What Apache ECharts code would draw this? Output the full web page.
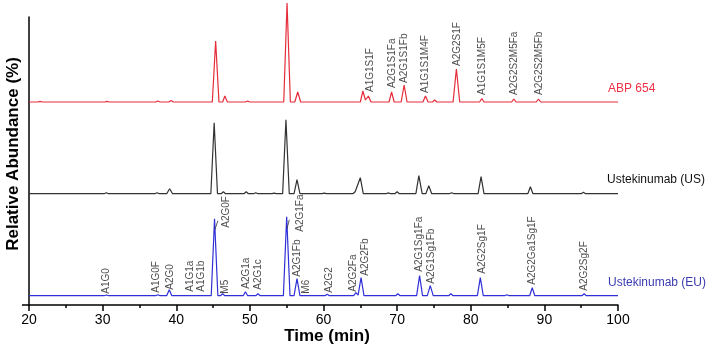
<!DOCTYPE html>
<html>
<head>
<meta charset="utf-8">
<script src="https://cdn.jsdelivr.net/npm/echarts@6/dist/echarts.min.js"></script>
<style>html,body{margin:0;padding:0;background:#fff}#c{width:708px;height:348px}</style>
</head>
<body>
<div id="c"></div>
<script>
// ---- data: [time (min), relative abundance above the trace's baseline] ----
const xTicks = [20, 30, 40, 50, 60, 70, 80, 90, 100];

const traceABP = [
  [20,0],[21.2,0],[21.5,0.6],[21.8,0],[30.3,0],[30.6,0.6],[30.9,0],[37.2,0],[37.5,1],[37.8,0],[39.0,0],[39.3,1.5],[39.6,0],
  [44.9,0],[45.35,61],[45.8,0],[46.3,0],[46.6,6],[46.95,0],[49.4,0],[49.7,1],[50.0,0],
  [54.6,0],[55.05,99],[55.5,0],[56.1,0],[56.5,10],[56.9,0],
  [65.0,0],[65.35,11],[65.7,2],[66.1,6],[66.45,0],
  [68.9,0],[69.25,10],[69.6,0],[70.55,0],[70.95,17],[71.35,0],
  [73.5,0],[73.85,6],[74.2,0],[74.8,0],[75.1,2],[75.4,0],
  [77.6,0],[78.05,33],[78.5,0],[81.2,0],[81.5,3.5],[81.8,0],
  [85.55,0],[85.85,3],[86.15,0],[88.9,0],[89.2,3],[89.5,0],[100,0]
];
const traceUS = [
  [20,0],[30.2,0],[30.5,1],[30.8,0],[37.1,0],[37.4,1],[37.7,0],[38.7,0],[39.1,5],[39.5,0],
  [44.7,0],[45.15,71],[45.6,0],[46.1,0],[46.4,2],[46.7,0],[49.2,0],[49.5,2],[49.8,0],[50.5,0],[50.8,1],[51.1,0],[53.0,0],[53.3,0.5],[53.6,0],
  [54.45,0],[54.9,74],[55.35,0],[56.0,0],[56.4,14],[56.8,0],[59.8,0],[60.1,0.5],[60.4,0],
  [64.0,0],[64.3,2],[64.55,0.5],[65.0,16],[65.4,0],[68.5,0],[68.8,0.8],[69.1,0],[69.7,0],[70.0,2],[70.3,0],
  [72.55,0],[72.95,18],[73.4,0],[73.9,0],[74.3,8],[74.7,0],[77.1,0],[77.4,1],[77.7,0],
  [81.0,0],[81.4,17],[81.8,0],[87.75,0],[88.1,7],[88.45,0],[95.0,0],[95.3,1.5],[95.6,0],[100,0]
];
const traceEU = [
  [20,0],[30.2,0],[30.5,0.7],[30.8,0],[37.2,0],[37.5,1],[37.8,0],[38.7,0],[39.05,6],[39.4,0],[41.7,0],[41.9,0.5],[42.1,0],
  [44.75,0],[45.2,77],[45.65,0],[46.0,0],[46.3,2],[46.6,0],[49.1,0],[49.4,4],[49.7,0],[50.8,0],[51.1,2],[51.4,0],
  [54.55,0],[55.0,79],[55.45,0],[56.0,0],[56.4,17],[56.8,0],[57.1,0],[57.3,1],[57.5,0],[60.2,0],[60.5,1.5],[60.8,0],
  [64.1,0],[64.4,3],[64.7,0.5],[65.1,18],[65.5,0],[69.8,0],[70.1,2],[70.4,0],
  [72.65,0],[73.05,20],[73.45,0],[74.1,0],[74.5,10],[74.9,0],[77.0,0],[77.3,2],[77.6,0],
  [80.9,0],[81.3,18],[81.7,0],[84.6,0],[84.9,1],[85.2,0],[88.0,0],[88.35,8],[88.7,0],[95.1,0],[95.4,2],[95.7,0],[100,0]
];

// peak annotations: [name, time, label base height above baseline]
const labelsABP = [
  ['A1G1S1F',66.3,10],['A2G1S1Fa',69.3,14],['A2G1S1Fb',70.95,19],['A1G1S1M4F',73.85,9],
  ['A2G2S1F',78.2,36],['A1G1S1M5F',81.5,7],['A2G2S2M5Fa',85.9,7],['A2G2S2M5Fb',89.25,7]
];
const labelsEU = [
  ['A1G0',30.55,2],['A1G0F',37.35,3],['A2G0',39.15,6],['A1G1a',41.9,4],['A1G1b',43.4,4],
  ['A2G0F',46.85,68],['M5',46.6,2],['A2G1a',49.45,7],['A2G1c',51.15,6],
  ['A2G1Fa',56.85,64],['A2G1Fb',56.4,19],['M6',57.6,2],['A2G2',60.8,3],['A2G2Fa',64.05,4],['A2G2Fb',65.65,20],
  ['A2G1Sg1Fa',73.05,24],['A2G1Sg1Fb',74.6,12],['A2G2Sg1F',81.5,22],['A2G2Ga1Sg1F',88.4,11],['A2G2Sg2F',95.4,5]
];
const leadersEU = [
  [[45.25,66],[45.65,75]],
  [[55.05,67],[55.35,76]]
];

const traceNames = ['ABP 654', 'Ustekinumab (US)', 'Ustekinumab (EU)'];
// vertical offsets of the stacked traces (axis units)
const offsets = [203, 111.3, 9.3];
const lineColors = ['#e52d3a', '#333333', '#3030d8'];
const textColors = ['#ee2f45', '#111111', '#3b3bb0'];

const FONT = 'Liberation Sans, Arial, sans-serif';
const shift = (arr, off) => arr.map(p => [p[0], p[1] + off]);
const labelData = (arr, off) => arr.map(l => ({ value: [l[1], l[2] + off], name: l[0] }));

const traces = [traceABP, traceUS, traceEU];
const series = traces.map((t, i) => ({
  type: 'line', data: shift(t, offsets[i]), showSymbol: false, symbol: 'none',
  clip: false, animation: false,
  lineStyle: { color: lineColors[i], width: 1.2 }
}));
series[2].markLine = {
  silent: true, symbol: 'none', animation: false,
  lineStyle: { color: '#333', width: 0.8, type: 'solid' },
  label: { show: false },
  data: leadersEU.map(s => [{ coord: [s[0][0], s[0][1] + offsets[2]] }, { coord: [s[1][0], s[1][1] + offsets[2]] }])
};
const labelSeries = (arr, off) => ({
  type: 'scatter', data: labelData(arr, off), symbolSize: 0, clip: false, animation: false, silent: true,
  label: {
    show: true, formatter: p => p.name, position: 'inside', rotate: 90,
    align: 'left', verticalAlign: 'middle',
    fontFamily: FONT, fontSize: 10, color: '#1a1a1a'
  }
});
series.push(labelSeries(labelsABP, offsets[0]));
series.push(labelSeries(labelsEU, offsets[2]));

const chart = echarts.init(document.getElementById('c'), null, { renderer: 'canvas' });
chart.setOption({
  animation: false,
  backgroundColor: '#fff',
  grid: { left: 29, right: 90, top: 17, bottom: 43 },
  xAxis: {
    type: 'value', min: xTicks[0], max: xTicks[xTicks.length - 1], interval: 10,
    axisLine: { show: true, onZero: false, lineStyle: { color: '#000', width: 1.5 } },
    axisTick: { show: true, length: 6, lineStyle: { color: '#000', width: 1.5 } },
    minorTick: { show: true, splitNumber: 2, length: 3, lineStyle: { color: '#000', width: 1.5 } },
    axisLabel: { fontFamily: FONT, fontSize: 14, color: '#000', margin: 8 },
    splitLine: { show: false }
  },
  yAxis: {
    type: 'value', min: 0, max: 288,
    axisLine: { show: true, lineStyle: { color: '#000', width: 1.5 } },
    axisTick: { show: true, customValues: [0], length: 7, lineStyle: { color: '#000', width: 1.5 } },
    axisLabel: { show: false },
    splitLine: { show: false }
  },
  graphic: [
    { type: 'text', x: 327, y: 336, style: { text: 'Time (min)', fontFamily: FONT, fontSize: 17, fontWeight: 'bold', fill: '#000', align: 'center', verticalAlign: 'middle' } },
    { type: 'text', x: 13, y: 154, rotation: Math.PI / 2, style: { text: 'Relative Abundance (%)', fontFamily: FONT, fontSize: 17, fontWeight: 'bold', fill: '#000', align: 'center', verticalAlign: 'middle' } },
    { type: 'text', x: 608, y: 89, style: { text: traceNames[0], fontFamily: FONT, fontSize: 12, fill: textColors[0], align: 'left', verticalAlign: 'middle' } },
    { type: 'text', x: 607, y: 180, style: { text: traceNames[1], fontFamily: FONT, fontSize: 12, fill: textColors[1], align: 'left', verticalAlign: 'middle' } },
    { type: 'text', x: 608, y: 283, style: { text: traceNames[2], fontFamily: FONT, fontSize: 12, fill: textColors[2], align: 'left', verticalAlign: 'middle' } }
  ],
  series: series
});
</script>
</body>
</html>
